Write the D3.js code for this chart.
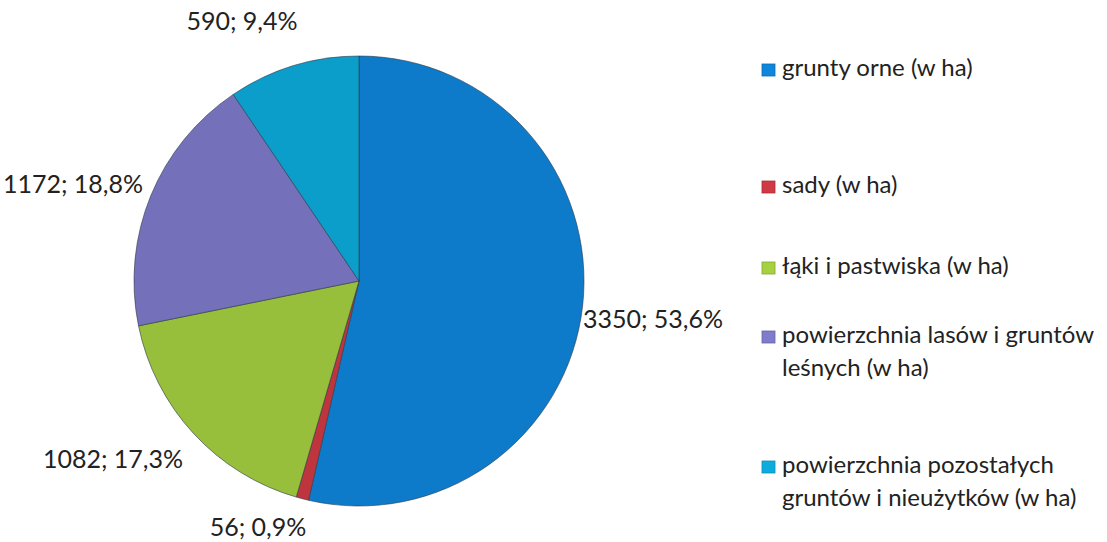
<!DOCTYPE html>
<html><head><meta charset="utf-8">
<script src="https://cdn.jsdelivr.net/npm/d3@7"></script>
<style>body{margin:0;background:#fff}svg{display:block}</style>
</head><body>
<script>
const categories = ["grunty orne (w ha)", "sady (w ha)", "łąki i pastwiska (w ha)", "powierzchnia lasów i gruntów leśnych (w ha)", "powierzchnia pozostałych gruntów i nieużytków (w ha)"];
const legendLines = [["grunty orne (w ha)"], ["sady (w ha)"], ["łąki i pastwiska (w ha)"], ["powierzchnia lasów i gruntów", "leśnych (w ha)"], ["powierzchnia pozostałych", "gruntów i nieużytków (w ha)"]];
const values = [3350, 56, 1082, 1172, 590];
const percents = ["53,6%", "0,9%", "17,3%", "18,8%", "9,4%"];
const colors = ["#0e86dc", "#d03a44", "#a6d140", "#7f7ccb", "#0cadde"];

const W = 1107, H = 542;
const svg = d3.select("body").append("svg").attr("width", W).attr("height", H);
const font = "Lato, 'Open Sans', sans-serif";
const cx = 359, cy = 281, R = 225;

const pie = d3.pie().sort(null).value(d => d);
const arcs = pie(values);
const arc = d3.arc().innerRadius(0).outerRadius(R);

const defs = svg.append("defs");
colors.forEach((c, i) => {
  const g = defs.append("radialGradient").attr("id", "g" + i)
    .attr("cx", cx).attr("cy", cy).attr("r", R).attr("gradientUnits", "userSpaceOnUse");
  g.append("stop").attr("offset", "0%").attr("stop-color", c);
  g.append("stop").attr("offset", "95%").attr("stop-color", c);
  g.append("stop").attr("offset", "100%").attr("stop-color", d3.color(c).darker(0.25));
});

const gp = svg.append("g").attr("transform", `translate(${cx},${cy})`);
gp.selectAll("path").data(arcs).join("path")
  .attr("d", arc)
  .attr("fill", (d, i) => `url(#g${i})`)
  .attr("stroke", "#2a3a4a").attr("stroke-width", 1).attr("stroke-opacity", 0.6);

// data labels
const labelPos = [[653, 322], [258, 530], [113, 462], [73, 187], [242, 24]];
svg.append("g").selectAll("text").data(arcs).join("text")
  .attr("x", (d, i) => labelPos[i][0]).attr("y", (d, i) => labelPos[i][1])
  .attr("text-anchor", "middle").attr("dominant-baseline", "middle")
  .attr("font-family", font).attr("font-size", 25).attr("fill", "#222")
  .text((d, i) => `${values[i]}; ${percents[i]}`);

// legend
const legY = [70, 187, 268, 337, 467];
const lg = svg.append("g");
legendLines.forEach((lines, i) => {
  lg.append("rect").attr("x", 762).attr("y", legY[i] - 6).attr("width", 13).attr("height", 12)
    .attr("fill", colors[i]).attr("stroke", d3.color(colors[i]).darker(0.6)).attr("stroke-width", 0.8);
  const t = lg.append("text").attr("font-family", font).attr("font-size", 24).attr("fill", "#222");
  lines.forEach((l, j) => {
    t.append("tspan").attr("x", 782).attr("y", legY[i] + j * 33).attr("dominant-baseline", "middle").text(l);
  });
});
</script>
</body></html>
